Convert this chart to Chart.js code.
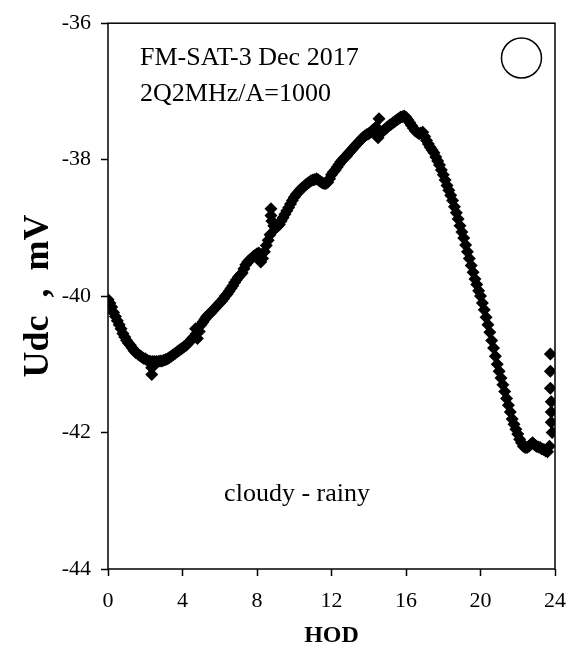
<!DOCTYPE html>
<html>
<head>
<meta charset="utf-8">
<script src="https://cdn.jsdelivr.net/npm/chart.js@4"></script>
<style>
  body { margin: 0; background: #fff; }
  #wrap { width: 587px; height: 654px; }
</style>
</head>
<body>
<div id="wrap"><canvas id="udcChart" width="587" height="654"></canvas></div>
<script>
// values (hour of day, Udc in mV)
const hod = [
  0.0, 0.1, 0.2, 0.3, 0.4, 0.5, 0.6, 0.7, 0.8, 0.9,
  1.0, 1.1, 1.2, 1.3, 1.4, 1.5, 1.6, 1.7, 1.8, 1.9,
  2.0, 2.1, 2.2, 2.3, 2.35, 2.35, 2.4, 2.5, 2.6, 2.7,
  2.8, 2.9, 3.0, 3.1, 3.2, 3.3, 3.4, 3.5, 3.6, 3.7,
  3.8, 3.9, 4.0, 4.1, 4.2, 4.3, 4.4, 4.5, 4.6, 4.7,
  4.75, 4.8, 4.9, 5.0, 5.1, 5.2, 5.3, 5.4, 5.5, 5.6,
  5.7, 5.8, 5.9, 6.0, 6.1, 6.2, 6.3, 6.4, 6.5, 6.6,
  6.7, 6.8, 6.9, 7.0, 7.1, 7.2, 7.3, 7.4, 7.5, 7.6,
  7.7, 7.8, 7.9, 8.0, 8.1, 8.2, 8.3, 8.4, 8.5, 8.6,
  8.7, 8.75, 8.75, 8.8, 8.9, 9.0, 9.1, 9.2, 9.3, 9.4,
  9.5, 9.6, 9.7, 9.8, 9.9, 10.0, 10.1, 10.2, 10.3, 10.4,
  10.5, 10.6, 10.7, 10.8, 10.9, 11.0, 11.1, 11.2, 11.3, 11.4,
  11.5, 11.6, 11.7, 11.8, 11.9, 12.0, 12.1, 12.2, 12.3, 12.4,
  12.5, 12.6, 12.7, 12.8, 12.9, 13.0, 13.1, 13.2, 13.3, 13.4,
  13.5, 13.6, 13.7, 13.8, 13.9, 14.0, 14.1, 14.2, 14.3, 14.4,
  14.5, 14.5, 14.55, 14.6, 14.7, 14.8, 14.9, 15.0, 15.1, 15.2,
  15.3, 15.4, 15.5, 15.6, 15.7, 15.8, 15.9, 16.0, 16.1, 16.2,
  16.3, 16.4, 16.5, 16.6, 16.7, 16.8, 16.9, 17.0, 17.1, 17.2,
  17.3, 17.4, 17.5, 17.6, 17.7, 17.8, 17.9, 18.0, 18.1, 18.2,
  18.3, 18.4, 18.5, 18.6, 18.7, 18.8, 18.9, 19.0, 19.1, 19.2,
  19.3, 19.4, 19.5, 19.6, 19.7, 19.8, 19.9, 20.0, 20.1, 20.2,
  20.3, 20.4, 20.5, 20.6, 20.7, 20.8, 20.9, 21.0, 21.1, 21.2,
  21.3, 21.4, 21.5, 21.6, 21.7, 21.8, 21.9, 22.0, 22.1, 22.2,
  22.3, 22.4, 22.5, 22.6, 22.7, 22.8, 22.9, 23.0, 23.1, 23.2,
  23.3, 23.4, 23.5, 23.6, 23.7, 23.75, 23.75, 23.75, 23.8, 23.8,
  23.8, 23.85
];
const udc = [
  -40.05, -40.1, -40.16, -40.24, -40.3, -40.36, -40.42, -40.48, -40.55, -40.6,
  -40.65, -40.69, -40.72, -40.76, -40.8, -40.83, -40.85, -40.87, -40.89, -40.91,
  -40.92, -40.94, -40.95, -40.96, -41.15, -41.05, -40.96, -40.96, -40.96, -40.96,
  -40.95, -40.95, -40.94, -40.93, -40.92, -40.9, -40.88, -40.86, -40.84, -40.82,
  -40.8, -40.78, -40.76, -40.74, -40.72, -40.69, -40.66, -40.63, -40.6, -40.48,
  -40.55, -40.62, -40.52, -40.42, -40.38, -40.34, -40.3, -40.27, -40.25, -40.22,
  -40.19, -40.16, -40.13, -40.1, -40.07, -40.04, -40.0, -39.97, -39.93, -39.89,
  -39.85, -39.8, -39.76, -39.72, -39.69, -39.66, -39.6, -39.54, -39.5, -39.47,
  -39.45, -39.42, -39.4, -39.38, -39.37, -39.5, -39.45, -39.35, -39.26, -39.18,
  -39.1, -38.72, -38.82, -38.9, -38.97, -39.0, -38.98, -38.95, -38.9, -38.85,
  -38.8, -38.75, -38.7, -38.65, -38.6, -38.55, -38.51, -38.48, -38.45, -38.42,
  -38.4, -38.37, -38.35, -38.33, -38.31, -38.3, -38.29, -38.28, -38.3, -38.32,
  -38.34, -38.35, -38.35, -38.33, -38.28, -38.22, -38.18, -38.15, -38.11, -38.07,
  -38.03, -38.0, -37.97, -37.95, -37.91, -37.88, -37.85, -37.82, -37.79, -37.76,
  -37.73, -37.7, -37.67, -37.65, -37.63, -37.62, -37.6, -37.57, -37.55, -37.52,
  -37.68, -37.6, -37.4, -37.62, -37.6, -37.57, -37.55, -37.52, -37.5, -37.48,
  -37.46, -37.44, -37.42, -37.4, -37.38, -37.37, -37.36, -37.38, -37.42, -37.46,
  -37.5, -37.54, -37.58, -37.6, -37.62, -37.61, -37.6, -37.66, -37.72, -37.77,
  -37.82, -37.86, -37.9, -37.96, -38.02, -38.08, -38.15, -38.22, -38.3, -38.38,
  -38.45, -38.52, -38.6, -38.69, -38.78, -38.87, -38.97, -39.06, -39.15, -39.25,
  -39.35, -39.45, -39.55, -39.65, -39.75, -39.83, -39.92, -40.0, -40.1, -40.2,
  -40.31, -40.42, -40.53, -40.65, -40.76, -40.88, -41.0, -41.1, -41.2, -41.3,
  -41.4, -41.5, -41.6, -41.7, -41.8, -41.88, -41.95, -42.02, -42.1, -42.15,
  -42.2, -42.22, -42.22, -42.2, -42.17, -42.15, -42.18, -42.2, -42.21, -42.22,
  -42.24, -42.25, -42.27, -42.28, -42.2, -40.85, -41.1, -41.35, -41.55, -41.7,
  -41.85, -42.0
];
const xTicks = [0, 4, 8, 12, 16, 20, 24];
const yTicks = [-44, -42, -40, -38, -36];

const serif = '"Liberation Serif", "Times New Roman", serif';

// frame, notes and the empty circle marker
const extras = {
  id: 'extras',
  afterDraw(chart) {
    const { ctx, chartArea: a, scales: { x, y } } = chart;
    ctx.save();
    ctx.strokeStyle = '#000';
    ctx.lineWidth = 1.5;
    ctx.strokeRect(a.left, a.top, a.right - a.left, a.bottom - a.top);

    ctx.fillStyle = '#000';
    ctx.font = '26px ' + serif;
    ctx.textBaseline = 'middle';
    ctx.textAlign = 'left';
    ctx.fillText('FM-SAT-3 Dec 2017', x.getPixelForValue(1.72), y.getPixelForValue(-36.51));
    ctx.fillText('2Q2MHz/A=1000', x.getPixelForValue(1.72), y.getPixelForValue(-37.04));
    ctx.textAlign = 'center';
    ctx.fillText('cloudy - rainy', x.getPixelForValue(10.15), y.getPixelForValue(-42.9));

    ctx.beginPath();
    ctx.arc(x.getPixelForValue(22.2), y.getPixelForValue(-36.51), 20, 0, Math.PI * 2);
    ctx.lineWidth = 1.5;
    ctx.stroke();
    ctx.restore();
  }
};

const ctx = document.getElementById('udcChart').getContext('2d');
new Chart(ctx, {
  type: 'scatter',
  data: {
    datasets: [{
      label: 'Udc',
      data: hod.map((h, i) => ({ x: h, y: udc[i] })),
      pointStyle: 'rectRot',
      pointRadius: 6.5,
      backgroundColor: '#000',
      borderColor: '#000',
      borderWidth: 0
    }]
  },
  options: {
    responsive: false,
    animation: false,
    layout: { padding: { top: 22, right: 32, left: 0, bottom: 0 } },
    plugins: { legend: { display: false }, tooltip: { enabled: false } },
    scales: {
      x: {
        type: 'linear',
        min: 0, max: 24,
        afterBuildTicks: s => { s.ticks = xTicks.map(v => ({ value: v })); },
        afterFit: s => { s.height = 85; },
        border: { display: false },
        grid: { drawOnChartArea: false, tickLength: 7, tickColor: '#000', tickWidth: 1.5 },
        ticks: { color: '#000', padding: 12, maxRotation: 0, font: { family: serif, size: 22 } },
        title: { display: true, text: 'HOD', color: '#000', padding: { top: 4 }, font: { family: serif, size: 24, weight: 'bold' } }
      },
      y: {
        type: 'linear',
        min: -44, max: -36,
        afterBuildTicks: s => { s.ticks = yTicks.map(v => ({ value: v })); },
        afterFit: s => { s.width = 108; },
        border: { display: false },
        grid: { drawOnChartArea: false, tickLength: 7, tickColor: '#000', tickWidth: 1.5 },
        ticks: { color: '#000', padding: 10, font: { family: serif, size: 22 } },
        title: { display: true, text: 'Udc  ,  mV', color: '#000', padding: { top: 17, bottom: 0 }, font: { family: serif, size: 36, weight: 'bold' } }
      }
    }
  },
  plugins: [extras]
});
</script>
</body>
</html>
